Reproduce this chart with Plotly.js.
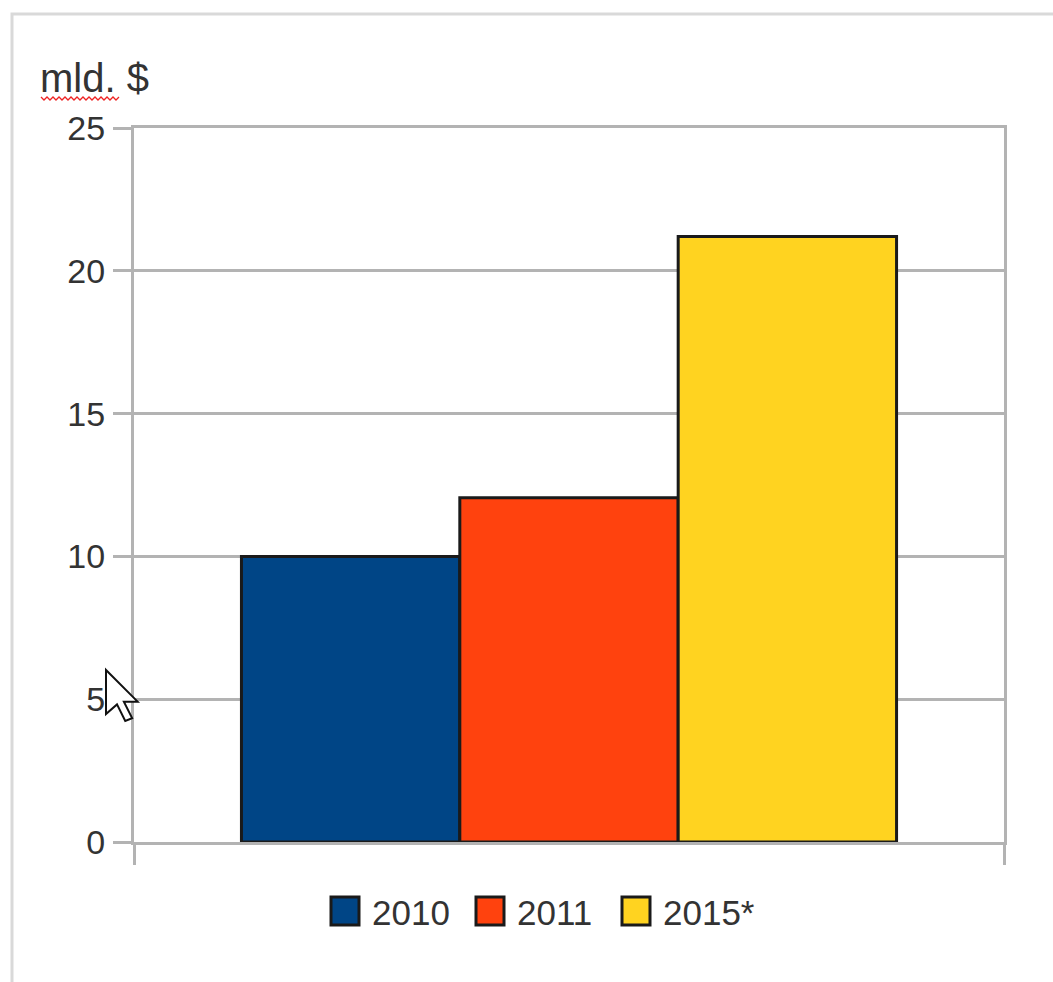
<!DOCTYPE html>
<html>
<head>
<meta charset="utf-8">
<script src="https://cdn.plot.ly/plotly-3.0.1.min.js"></script>
<style>html,body{margin:0;padding:0;background:#fff;}#chart{width:1053px;height:982px;}</style>
</head>
<body>
<div id="chart"></div>
<script>
var seriesNames = ["2010", "2011", "2015*"];
var seriesValues = [10, 12.05, 21.2];
var seriesColors = ["#004586", "#ff420e", "#ffd320"];
var yTickVals = [0, 5, 10, 15, 20, 25];
var yTitle = "mld. $";

var W = 1053, H = 982;
var L = 134, R = 49, T = 128, B = 140;
var pw = W - L - R, ph = H - T - B;
function px(x) { return (x - L) / pw; }
function py(y) { return (H - B - y) / ph; }
var FONT = "Liberation Sans, Arial, sans-serif";

var traces = seriesNames.map(function (n, i) {
  return {
    type: "bar", name: n, x: [0], y: [seriesValues[i]],
    marker: { color: seriesColors[i], line: { color: "#1a1a1a", width: 3 } },
    showlegend: false, hoverinfo: "skip"
  };
});

var shapes = [];
var annotations = [];

// outer chart frame
shapes.push({ type: "rect", xref: "paper", yref: "paper",
  x0: px(12), x1: px(1070), y0: py(1000), y1: py(14),
  line: { color: "#d9d9d9", width: 3 }, fillcolor: "rgba(0,0,0,0)", layer: "below" });

// spell-check squiggle under "mld."
var sq = "M" + px(41) + "," + py(97);
for (var k = 0, xx = 41; xx < 118; k++) {
  xx += 3;
  sq += " L" + px(xx) + "," + py(k % 2 === 0 ? 100 : 97);
}
shapes.push({ type: "path", xref: "paper", yref: "paper", path: sq,
  line: { color: "#ee2222", width: 1.3 } });

// manual legend
var legX = [331, 476, 622];
seriesNames.forEach(function (n, i) {
  var x0 = legX[i];
  shapes.push({ type: "rect", xref: "paper", yref: "paper",
    x0: px(x0), x1: px(x0 + 28), y0: py(925), y1: py(897),
    fillcolor: seriesColors[i], line: { color: "#1a1a1a", width: 3 } });
  annotations.push({ xref: "paper", yref: "paper", x: px(x0 + 39), y: py(912),
    xanchor: "left", yanchor: "middle", text: n, showarrow: false,
    font: { family: FONT, size: 35, color: "#333333" } });
});

// mouse cursor
var cur = [[0,0],[0,16],[4,12.5],[7,18.5],[9.5,17.5],[6.5,11.5],[11.5,11.5]];
var cp = "M" + cur.map(function (p) { return px(106 + p[0]*2.75) + "," + py(670 + p[1]*2.75); }).join(" L") + " Z";
shapes.push({ type: "path", xref: "paper", yref: "paper", path: cp,
  fillcolor: "#ffffff", line: { color: "#111111", width: 2 } });

var layout = {
  width: W, height: H,
  margin: { l: L, r: R, t: T, b: B, pad: 0 },
  paper_bgcolor: "#ffffff", plot_bgcolor: "#ffffff",
  barmode: "group", bargap: 0.247, bargroupgap: 0,
  showlegend: false,
  font: { family: FONT, size: 35, color: "#333333" },
  title: { text: yTitle, xref: "container", yref: "container", x: 40 / W, xanchor: "left",
    y: 1 - 78 / H, yanchor: "middle",
    font: { family: FONT, size: 40, color: "#333333" } },
  xaxis: {
    range: [-0.5, 0.5], tickvals: [-0.5, 0.5], showticklabels: false,
    ticks: "outside", ticklen: 20, tickwidth: 3, tickcolor: "#b3b3b3",
    showgrid: false, zeroline: false,
    showline: true, mirror: true, linecolor: "#b3b3b3", linewidth: 3, fixedrange: true
  },
  yaxis: {
    range: [0, 25], tickvals: yTickVals, ticktext: yTickVals.map(String),
    ticks: "outside", ticklen: 18, tickwidth: 3, tickcolor: "#b3b3b3",
    showgrid: true, gridcolor: "#b3b3b3", gridwidth: 3, zeroline: false,
    showline: true, mirror: true, linecolor: "#b3b3b3", linewidth: 3,
    tickfont: { family: FONT, size: 34, color: "#333333" },
    ticklabelstandoff: 1, fixedrange: true
  },
  shapes: shapes,
  annotations: annotations
};

Plotly.newPlot("chart", traces, layout, { displayModeBar: false, staticPlot: true });
</script>
</body>
</html>
